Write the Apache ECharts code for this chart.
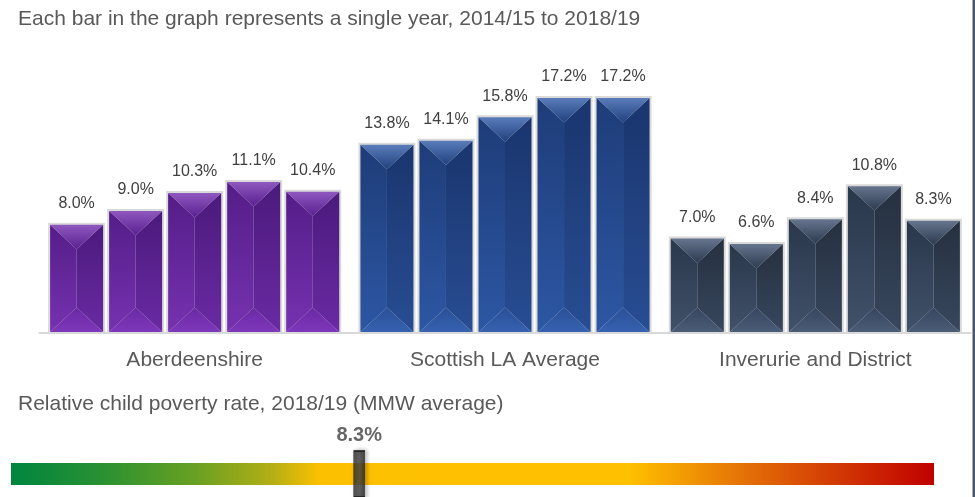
<!DOCTYPE html>
<html>
<head>
<meta charset="utf-8">
<script src="https://cdn.jsdelivr.net/npm/echarts@6/dist/echarts.min.js"></script>
<style>
  html, body { margin: 0; padding: 0; background: #fff; }
  #chart { width: 975px; height: 497px; }
</style>
</head>
<body>
<div id="chart"></div>
<script>
// data
const categories = ['Aberdeenshire', 'Scottish LA Average', 'Inverurie and District']
const years = ['2014/15', '2015/16', '2016/17', '2017/18', '2018/19']
const aberdeenshire = [8.0, 9.0, 10.3, 11.1, 10.4]
const scottishAverage = [13.8, 14.1, 15.8, 17.2, 17.2]
const inverurie = [7.0, 6.6, 8.4, 10.8, 8.3]
const rateScale = [0, 22]
const currentRate = 8.3

const FONT = "'Liberation Sans', Arial, sans-serif"
const TEXT = '#595959'

// per category bevel palette
const palettes = [
  { top: ['#8f58bf', '#5a2090'], left: ['#541d88', '#7632b0'], right: ['#4b1a7c', '#6a2aa3'], bottom: ['#6a2aa3', '#7e37ba'] },
  { top: ['#5a7cba', '#21417e'], left: ['#1e3c78', '#2d57a4'], right: ['#1a356e', '#284d93'], bottom: ['#2a4f96', '#3662b0'] },
  { top: ['#66758e', '#2d3a4f'], left: ['#2a374b', '#405169'], right: ['#25303f', '#38475e'], bottom: ['#364560', '#4b5c76'] }
]

const seriesValues = [aberdeenshire, scottishAverage, inverurie]
const barData = []
seriesValues.forEach((vals, c) => {
  vals.forEach((v, y) => barData.push([c, y, v]))
})

function vgrad(stops) {
  return new echarts.graphic.LinearGradient(0, 0, 0, 1, [
    { offset: 0, color: stops[0] },
    { offset: 1, color: stops[1] }
  ])
}

function renderBar(params, api) {
  const cat = api.value(0)
  const slot = api.value(1)
  const val = api.value(2)
  const base = api.coord([cat, 0])
  const top = api.coord([cat, val])
  const band = api.size([1, 0])[0]
  const group = band * 0.951
  const step = group / years.length
  const x = base[0] - group / 2 + step * slot + 1
  const w = step - 2
  const yT = top[1]
  const yB = base[1]
  const pal = palettes[cat]

  const ix = x + 2, iw = w - 4, it = yT + 2, ib = yB - 1
  const cx = ix + iw / 2
  const d = iw * 0.46

  return {
    type: 'group',
    children: [
      { type: 'rect', shape: { x: x, y: yT, width: w, height: yB - yT }, style: { fill: '#dadada' } },
      { type: 'polygon', shape: { points: [[ix, it], [cx, it + d], [cx, ib - d], [ix, ib]] }, style: { fill: vgrad(pal.left) } },
      { type: 'polygon', shape: { points: [[ix + iw, it], [cx, it + d], [cx, ib - d], [ix + iw, ib]] }, style: { fill: vgrad(pal.right) } },
      { type: 'polygon', shape: { points: [[ix, it], [ix + iw, it], [cx, it + d]] }, style: { fill: vgrad(pal.top) } },
      { type: 'polygon', shape: { points: [[ix, ib], [ix + iw, ib], [cx, ib - d]] }, style: { fill: vgrad(pal.bottom) } },
      {
        type: 'text',
        style: {
          text: val.toFixed(1) + '%',
          x: x + w / 2,
          y: yT - 19,
          align: 'center',
          verticalAlign: 'middle',
          fill: '#404040',
          fontSize: 16,
          fontFamily: FONT
        }
      }
    ]
  }
}

const chart = echarts.init(document.getElementById('chart'))

chart.setOption({
  animation: false,
  textStyle: { fontFamily: FONT },
  title: [
    {
      text: 'Each bar in the graph represents a single year, 2014/15 to 2018/19',
      left: 13, top: 4,
      textStyle: { fontSize: 21, fontWeight: 'normal', color: TEXT, fontFamily: FONT }
    },
    {
      text: 'Relative child poverty rate, 2018/19 (MMW average)',
      left: 13, top: 389,
      textStyle: { fontSize: 21, fontWeight: 'normal', color: TEXT, fontFamily: FONT }
    }
  ],
  graphic: [
    { type: 'rect', shape: { x: 972.5, y: 0, width: 2.5, height: 497 }, style: { fill: '#4a576b' } }
  ],
  grid: [
    { left: 39.5, right: 4.5, top: 57.4, bottom: 164 },
    { left: 11, right: 41, top: 463, height: 22 }
  ],
  xAxis: [
    {
      gridIndex: 0,
      type: 'category',
      data: categories,
      axisLine: { lineStyle: { color: '#d9d9d9', width: 2 } },
      axisTick: { show: false },
      axisLabel: { color: TEXT, fontSize: 21, margin: 17, fontFamily: FONT }
    },
    { gridIndex: 1, type: 'value', min: rateScale[0], max: rateScale[1], show: false }
  ],
  yAxis: [
    { gridIndex: 0, type: 'value', min: 0, max: 20, show: false },
    { gridIndex: 1, type: 'category', data: ['rate'], show: false }
  ],
  series: [
    {
      type: 'custom',
      xAxisIndex: 0,
      yAxisIndex: 0,
      renderItem: renderBar,
      encode: { x: 0, y: 2 },
      data: barData,
      z: 3
    },
    {
      type: 'bar',
      xAxisIndex: 1,
      yAxisIndex: 1,
      data: [rateScale[1]],
      barWidth: 22,
      silent: true,
      itemStyle: {
        color: new echarts.graphic.LinearGradient(0, 0, 1, 0, [
          { offset: 0, color: '#00853f' },
          { offset: 0.1, color: '#2a9132' },
          { offset: 0.2, color: '#69a022' },
          { offset: 0.28, color: '#b0ae16' },
          { offset: 0.335, color: '#fdc000' },
          { offset: 0.67, color: '#ffc000' },
          { offset: 0.8, color: '#e36d07' },
          { offset: 1, color: '#c00000' }
        ])
      }
    },
    {
      type: 'scatter',
      xAxisIndex: 1,
      yAxisIndex: 1,
      data: [[currentRate, 0]],
      symbol: 'rect',
      symbolSize: [11, 46],
      z: 5,
      itemStyle: {
        color: new echarts.graphic.LinearGradient(0, 0, 1, 0, [
          { offset: 0, color: '#2a2a2a' },
          { offset: 0.5, color: '#474747' },
          { offset: 1, color: '#262626' }
        ]),
        borderColor: '#1c1c1c',
        borderWidth: 1,
        shadowBlur: 4,
        shadowOffsetX: 2,
        shadowColor: 'rgba(0,0,0,0.35)'
      },
      label: {
        show: true,
        position: 'top',
        distance: 4,
        formatter: p => p.value[0].toFixed(1) + '%',
        fontSize: 20,
        fontWeight: 'bold',
        color: '#404040',
        fontFamily: FONT
      }
    }
  ]
})
</script>
</body>
</html>
